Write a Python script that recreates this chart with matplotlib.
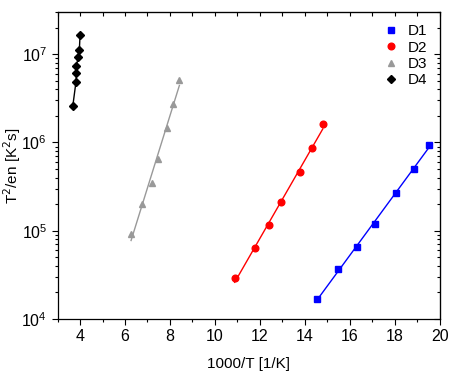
import numpy as np
import matplotlib
matplotlib.use('Agg')
import matplotlib.pyplot as plt
from matplotlib.lines import Line2D

plt.rcParams['font.family'] = ['Liberation Sans', 'DejaVu Sans']

# Données
x_d1 = [14.56, 15.46, 16.34, 17.12, 18.04, 18.85, 19.53]
y_d1 = [1.67e4, 3.66e4, 6.6e4, 1.2e5, 2.69e5, 5.04e5, 9.25e5]

x_d2 = [10.88, 11.79, 12.42, 12.93, 13.80, 14.31, 14.80]
y_d2 = [2.94e4, 6.3e4, 1.15e5, 2.09e5, 4.61e5, 8.7e5, 1.61e6]

x_d3 = [6.27, 6.75, 7.19, 7.46, 7.86, 8.12, 8.42]
y_d3 = [9.1e4, 1.99e5, 3.49e5, 6.43e5, 1.45e6, 2.72e6, 5.08e6]

x_d4 = [3.68, 3.82, 3.84, 3.84, 3.91, 3.97, 4.00]
y_d4 = [2.62e6, 4.9e6, 6.1e6, 7.3e6, 9.33e6, 1.13e7, 1.67e7]

fig = plt.figure(figsize=(4.57, 3.78), dpi=100)
ax = fig.add_axes([0.126, 0.156, 0.836, 0.812])


def droite(x, y):
    # ajustement linéaire de log10(y) en fonction de x
    p = np.polyfit(x, np.log10(y), 1)
    xx = np.linspace(min(x), max(x), 50)
    return xx, 10 ** np.polyval(p, xx)


poignees = []
for x, y, c, m, ms, lab in [(x_d1, y_d1, 'blue', 's', 4.2, 'D1'),
                            (x_d2, y_d2, 'red', 'o', 4.8, 'D2'),
                            (x_d3, y_d3, '#999999', '^', 5, 'D3')]:
    xx, yy = droite(x, y)
    ax.plot(xx, yy, color=c, lw=1)
    ax.plot(x, y, ls='none', marker=m, color=c, ms=ms)
    poignees.append(Line2D([], [], ls='none', marker=m, color=c, ms=ms, label=lab))

ax.plot(x_d4, y_d4, color='black', lw=1, marker='D', ms=4.2)
poignees.append(Line2D([], [], ls='none', marker='D', color='black', ms=4.2, label='D4'))

ax.set_yscale('log')
ax.set_xlim(3, 20)
ax.set_ylim(1e4, 3e7)
ax.set_xticks(np.arange(4, 21, 2))
ax.set_xticks(np.arange(3, 20, 2), minor=True)

ax.tick_params(axis='both', which='both', labelsize=11.5, direction='out',
               width=0.8)
ax.tick_params(which='major', length=4)
ax.tick_params(which='minor', length=2.5)
# axes secondaires : graduations vers l'intérieur
axt = ax.secondary_xaxis('top')
axt.set_xticks(np.arange(4, 21, 2))
axt.set_xticks(np.arange(3, 20, 2), minor=True)
axt.tick_params(which='both', direction='in', labeltop=False, length=3, width=0.8)
axr = ax.secondary_yaxis('right')
axr.tick_params(which='major', direction='in', labelright=False, length=4, width=0.8)
axr.tick_params(which='minor', direction='in', labelright=False, length=2.5, width=0.8)

for s in ax.spines.values():
    s.set_linewidth(0.9)

ax.set_xlabel('1000/T [1/K]', fontsize=11, labelpad=9)
ax.set_ylabel('T$^2$/en [K$^2$s]', fontsize=11, labelpad=-1)
ax.legend(handles=poignees, loc='upper right', frameon=False, fontsize=11,
          handlelength=1, handletextpad=0.6, labelspacing=0.15,
          borderaxespad=0.4)

plt.savefig('out.png', dpi=100)
